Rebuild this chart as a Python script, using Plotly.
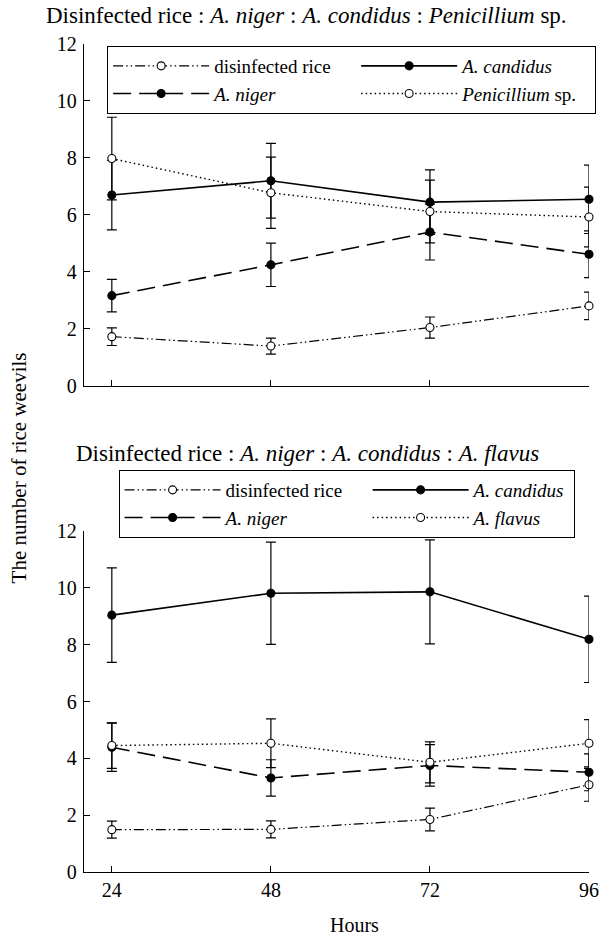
import plotly.graph_objects as go

hours = [24, 48, 72, 96]
hour_ticks = ["24", "48", "72", "96"]
y_ticks = [0, 2, 4, 6, 8, 10, 12]

# Top panel: Disinfected rice : A. niger : A. condidus : Penicillium sp.
top_rice = [1.73, 1.40, 2.05, 2.81]
top_rice_err = [0.31, 0.28, 0.37, 0.48]
top_candidus = [6.70, 7.20, 6.45, 6.55]
top_candidus_err = [1.22, 1.31, 1.13, 1.20]
top_niger = [3.17, 4.25, 5.40, 4.62]
top_niger_err = [0.57, 0.76, 0.98, 0.82]
top_penicillium = [7.98, 6.78, 6.12, 5.93]
top_penicillium_err = [1.45, 1.25, 1.10, 1.05]

# Bottom panel: Disinfected rice : A. niger : A. condidus : A. flavus
bot_rice = [1.49, 1.50, 1.85, 3.07]
bot_rice_err = [0.30, 0.30, 0.40, 0.58]
bot_candidus = [9.04, 9.81, 9.86, 8.19]
bot_candidus_err = [1.66, 1.80, 1.83, 1.52]
bot_niger = [4.39, 3.31, 3.75, 3.51]
bot_niger_err = [0.85, 0.64, 0.73, 0.65]
bot_flavus = [4.45, 4.53, 3.86, 4.53]
bot_flavus_err = [0.80, 0.86, 0.72, 0.83]

FONT = "Liberation Serif, Times New Roman, DejaVu Serif, serif"
BLACK = "black"

styles = {
    "rice": dict(dash="10px,3px,1.5px,3px,1.5px,3px", fill="white", width=1.2),
    "candidus": dict(dash="solid", fill=BLACK, width=1.6),
    "niger": dict(dash="18px,8px", fill=BLACK, width=1.6),
    "dot": dict(dash="1.5px,3px", fill="white", width=1.4),
}


def add(fig, x, y, err, name, style, xa, ya, legend, lw=None):
    st = styles[style]
    fig.add_trace(go.Scatter(
        x=x, y=y, name=name, mode="lines+markers",
        xaxis=xa, yaxis=ya, legend=legend, cliponaxis=False,
        legendwidth=lw,
        line=dict(color=BLACK, width=st["width"], dash=st["dash"]),
        marker=dict(symbol="circle", size=8, color=st["fill"],
                    line=dict(color=BLACK, width=1.1)),
        error_y=dict(type="data", array=err, visible=True, color=BLACK,
                     thickness=1.2, width=5),
    ))


fig = go.Figure()
add(fig, hours, top_rice, top_rice_err, "disinfected rice", "rice", "x", "y", "legend")
add(fig, hours, top_candidus, top_candidus_err, "<i>A. candidus</i>", "candidus", "x", "y", "legend", 128)
add(fig, hours, top_niger, top_niger_err, "<i>A. niger</i>", "niger", "x", "y", "legend")
add(fig, hours, top_penicillium, top_penicillium_err, "<i>Penicillium</i> sp.", "dot", "x", "y", "legend", 128)

add(fig, hours, bot_rice, bot_rice_err, "disinfected rice", "rice", "x2", "y2", "legend2")
add(fig, hours, bot_candidus, bot_candidus_err, "<i>A. candidus</i>", "candidus", "x2", "y2", "legend2", 95)
add(fig, hours, bot_niger, bot_niger_err, "<i>A. niger</i>", "niger", "x2", "y2", "legend2")
add(fig, hours, bot_flavus, bot_flavus_err, "<i>A. flavus</i>", "dot", "x2", "y2", "legend2", 95)

axis_common = dict(showline=True, linecolor=BLACK, linewidth=1.4, ticks="inside",
                   ticklen=6, tickcolor=BLACK, tickwidth=1.2, showgrid=False,
                   zeroline=False, tickfont=dict(family=FONT, size=20, color=BLACK))

xrange = [19.8, 96]
legend_common = dict(orientation="h", entrywidth=137, entrywidthmode="pixels",
                     itemwidth=96, bordercolor=BLACK, borderwidth=1, bgcolor="white",
                     font=dict(family=FONT, size=19, color=BLACK), xanchor="left",
                     yanchor="top", traceorder="normal", tracegroupgap=0)

fig.update_layout(
    width=609, height=936,
    margin=dict(l=84, r=10, t=44, b=64),
    paper_bgcolor="white", plot_bgcolor="white",
    font=dict(family=FONT, size=20, color=BLACK),
    xaxis=dict(domain=[0, 1], range=xrange, anchor="y", tickvals=hours,
               showticklabels=False, **axis_common),
    yaxis=dict(domain=[0.587, 1.0], range=[0, 12], anchor="x", tickvals=y_ticks,
               ticklabelstandoff=2, **axis_common),
    xaxis2=dict(domain=[0, 1], range=xrange, anchor="y2", tickvals=hours,
                ticktext=hour_ticks, **axis_common),
    yaxis2=dict(domain=[0, 0.4118], range=[0, 12], anchor="x2", tickvals=y_ticks,
                ticklabelstandoff=2, **axis_common),
    legend=dict(x=0.0458, y=0.9976, **legend_common),
    legend2=dict(x=0.0685, y=0.4855, **legend_common),
    annotations=[
        dict(text="Disinfected rice : <i>A. niger</i> : <i>A. condidus</i> : <i>Penicillium</i> sp.",
             xref="paper", yref="paper", x=0.4398, y=1.035, xanchor="center", yanchor="middle",
             showarrow=False, font=dict(family=FONT, size=23, color=BLACK)),
        dict(text="Disinfected rice : <i>A. niger</i> : <i>A. condidus</i> : <i>A. flavus</i>",
             xref="paper", yref="paper", x=0.4417, y=0.506, xanchor="center", yanchor="middle",
             showarrow=False, font=dict(family=FONT, size=23, color=BLACK)),
        dict(text="Hours", xref="paper", yref="paper", x=0.536, y=-0.064,
             xanchor="center", yanchor="middle", showarrow=False,
             font=dict(family=FONT, size=20, color=BLACK)),
        dict(text="The number of rice weevils", xref="paper", yref="paper", x=-0.129, y=0.4885,
             xanchor="center", yanchor="middle", textangle=-90, showarrow=False,
             font=dict(family=FONT, size=21, color=BLACK)),
    ],
)

fig.write_html("out.html")
